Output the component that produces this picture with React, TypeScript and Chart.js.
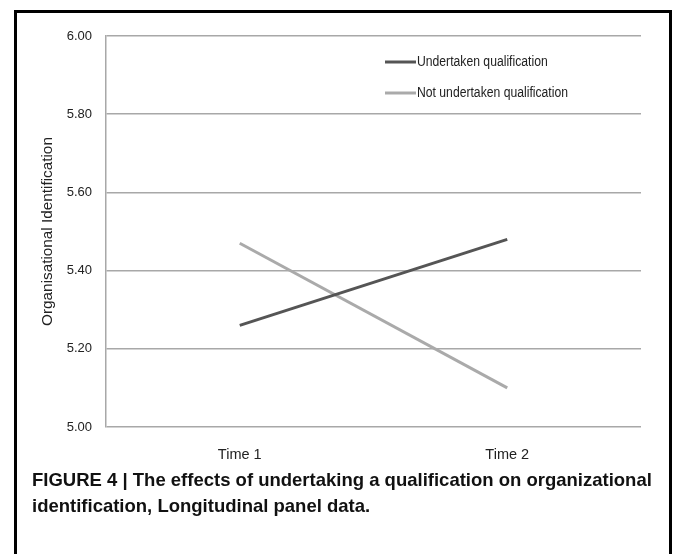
import React, { useEffect, useRef } from "react";
import { Chart, registerables } from "chart.js";

Chart.register(...registerables);

const categories = ["Time 1", "Time 2"];
const undertaken = [5.26, 5.48];
const notUndertaken = [5.47, 5.1];
const seriesLabels = ["Undertaken qualification", "Not undertaken qualification"];
const yTicks = [5.0, 5.2, 5.4, 5.6, 5.8, 6.0];
const yTitle = "Organisational Identification";
const caption1 = "FIGURE 4 | The effects of undertaking a qualification on organizational";
const caption2 = "identification, Longitudinal panel data.";

const FONT = "'Liberation Sans', Arial, sans-serif";

const legendPlugin = {
  id: "insideLegend",
  afterDatasetsDraw(chart: any) {
    const ctx = chart.ctx;
    ctx.save();
    chart.data.datasets.forEach((ds: any, i: number) => {
      const y = 62 + i * 31;
      ctx.strokeStyle = ds.borderColor;
      ctx.lineWidth = 3;
      ctx.beginPath();
      ctx.moveTo(385, y);
      ctx.lineTo(416, y);
      ctx.stroke();
      ctx.save();
      ctx.translate(417, y);
      ctx.scale(0.87, 1);
      ctx.fillStyle = "#222";
      ctx.font = "14px " + FONT;
      ctx.textAlign = "left";
      ctx.textBaseline = "middle";
      ctx.fillText(ds.label, 0, 0);
      ctx.restore();
    });
    ctx.restore();
  },
};

export default function App() {
  const ref = useRef<HTMLCanvasElement>(null);
  useEffect(() => {
    if (!ref.current) return;
    const chart = new Chart(ref.current, {
      type: "line",
      data: {
        labels: categories,
        datasets: [
          {
            label: seriesLabels[0],
            data: undertaken,
            borderColor: "#555555",
            borderWidth: 3,
            pointRadius: 0,
            fill: false,
          },
          {
            label: seriesLabels[1],
            data: notUndertaken,
            borderColor: "#aaaaaa",
            borderWidth: 3,
            pointRadius: 0,
            fill: false,
          },
        ],
      },
      options: {
        animation: false,
        responsive: false,
        maintainAspectRatio: false,
        layout: { padding: { top: 36, right: 33, left: 0, bottom: 0 } },
        plugins: { legend: { display: false }, tooltip: { enabled: false } },
        scales: {
          x: {
            offset: true,
            grid: { display: false, drawTicks: false },
            border: { display: false },
            ticks: { color: "#222", font: { family: FONT, size: 14.5 }, padding: 19 },
            afterFit: (s: any) => {
              s.height = 43;
            },
          },
          y: {
            min: 5,
            max: 6,
            afterBuildTicks: (s: any) => {
              s.ticks = yTicks.map((v) => ({ value: v }));
            },
            grid: { color: "#a8a8a8", lineWidth: 1.5, drawTicks: false },
            border: { display: true, color: "#a8a8a8", width: 1.5 },
            ticks: {
              color: "#222",
              font: { family: FONT, size: 13 },
              padding: 14,
              callback: (v: any) => Number(v).toFixed(2),
            },
            title: {
              display: true,
              text: yTitle,
              color: "#222",
              font: { family: FONT, size: 15.3 },
              padding: { top: 39, bottom: 0 },
            },
            afterFit: (s: any) => {
              s.width = 106;
            },
          },
        },
      },
      plugins: [legendPlugin],
    });
    return () => chart.destroy();
  }, []);

  return (
    <div style={{ position: "absolute", left: 0, top: 0, width: 674, height: 554, overflow: "hidden", background: "#fff" }}>
      <div
        style={{
          position: "absolute",
          left: 14,
          top: 10,
          width: 652,
          height: 600,
          borderLeft: "3px solid #000",
          borderRight: "3px solid #000",
          borderTop: "3px solid #000",
        }}
      />
      <canvas ref={ref} width={674} height={470} style={{ position: "absolute", left: 0, top: 0 }} />
      <div
        style={{
          position: "absolute",
          left: 32,
          top: 467,
          whiteSpace: "nowrap",
          fontFamily: "'Liberation Sans', Arial, sans-serif",
          fontWeight: "bold",
          fontSize: 18.5,
          lineHeight: "26px",
          color: "#111",
        }}
      >
        {caption1}
        <br />
        {caption2}
      </div>
    </div>
  );
}
